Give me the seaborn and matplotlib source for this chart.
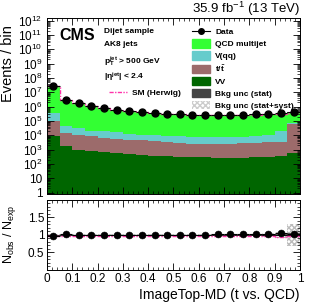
import numpy as np
import pandas as pd
import matplotlib
matplotlib.use('Agg')
import matplotlib.pyplot as plt
from matplotlib.patches import Patch
from matplotlib.lines import Line2D
from matplotlib.ticker import LogLocator, MultipleLocator, NullFormatter
import seaborn as sns

edges = np.linspace(0, 1, 21)
centers = 0.5 * (edges[1:] + edges[:-1])

data = [2.6e7, 2.9e6, 1.7e6, 1.1e6, 7.6e5, 5.8e5, 4.7e5, 4.0e5, 3.4e5, 3.1e5,
        2.95e5, 2.65e5, 2.6e5, 2.6e5, 2.6e5, 2.75e5, 2.95e5, 3.1e5, 3.3e5, 4.0e5]
qcd = [2.619e7, 2.802e6, 1.652e6, 1.069e6, 7.42e5, 5.588e5, 4.527e5, 3.893e5, 3.268e5, 2.98e5,
       2.838e5, 2.548e5, 2.503e5, 2.478e5, 2.477e5, 2.617e5, 2.769e5, 2.869e5, 2.961e5, 3.175e5]
vqq = [248000, 26600, 20200, 12100, 11900, 10100, 7600, 6300, 6000, 5700,
       5500, 5000, 4600, 4600, 4700, 5300, 6700, 8000, 14600, 14600]
ttbar = [83000, 12400, 9700, 7600, 5700, 4800, 4500, 4000, 3400, 2800,
         2500, 2300, 2200, 2200, 2300, 2400, 2500, 2800, 3200, 55600]
vv = [8300, 1700, 1000, 740, 630, 550, 460, 400, 355, 330,
      315, 300, 280, 265, 250, 265, 280, 315, 355, 560]
herwig = [2.55e7, 2.78e6, 1.64e6, 1.06e6, 7.4e5, 5.6e5, 4.5e5, 3.9e5, 3.27e5, 2.98e5,
          2.83e5, 2.55e5, 2.5e5, 2.47e5, 2.47e5, 2.6e5, 2.77e5, 2.87e5, 3.0e5, 3.8e5]
unc_stat = [0.004, 0.005, 0.005, 0.006, 0.006, 0.007, 0.007, 0.008, 0.008, 0.008,
            0.008, 0.009, 0.009, 0.009, 0.009, 0.01, 0.012, 0.015, 0.02, 0.05]
unc_syst = [0.03, 0.03, 0.03, 0.03, 0.03, 0.03, 0.03, 0.03, 0.03, 0.03,
            0.03, 0.03, 0.03, 0.03, 0.03, 0.035, 0.04, 0.05, 0.08, 0.31]

# top of stack first
processes = ['QCD multijet', 'V(qq)', 'ttbar', 'VV']
proc_vals = [qcd, vqq, ttbar, vv]
palette = ['#33ff33', '#66cccc', '#9c6b6b', '#006600']

plt.rcParams['font.family'] = ['Liberation Sans', 'DejaVu Sans']
plt.rcParams['mathtext.fontset'] = 'custom'
plt.rcParams['mathtext.rm'] = 'Liberation Sans'
plt.rcParams['mathtext.it'] = 'Liberation Sans:italic'
plt.rcParams['mathtext.bf'] = 'Liberation Sans:bold'

df = pd.DataFrame({
    'x': np.tile(centers, len(processes)),
    'w': np.concatenate(proc_vals),
    'process': np.repeat(processes, len(centers)),
})

fig = plt.figure(figsize=(3.16, 3.03), dpi=100)
ax = fig.add_axes([0.149, 0.360, 0.80, 0.582])
rax = fig.add_axes([0.149, 0.109, 0.80, 0.231])

sns.histplot(data=df, x='x', weights='w', hue='process', hue_order=processes,
             multiple='stack', bins=20, binrange=(0, 1), element='step',
             palette=palette, alpha=1, linewidth=0, legend=False, ax=ax)
ax.set_yscale('log')

total = np.sum(proc_vals, axis=0)
tot_s = np.append(total, total[-1])
stat_s = np.append(unc_stat, unc_stat[-1])
syst_s = np.append(unc_syst, unc_syst[-1])
ax.fill_between(edges, tot_s * (1 - stat_s), tot_s * (1 + stat_s), step='post',
                color='#444444', lw=0)
ax.step(edges, np.append(herwig, herwig[-1]), where='post', color='#ff33aa',
        ls=(0, (3, 1, 1, 1)), lw=1.0)
ax.errorbar(centers, data, xerr=0.025, fmt='o', color='black', ms=5, lw=0.8)

ax.set_xlim(0, 1)
ax.set_ylim(0.8, 1.6e12)
ax.set_xlabel('')
ax.set_ylabel('Events / bin', fontsize=10.5)
ax.yaxis.set_label_coords(-0.125, 0.74)


def tick_fmt(v, pos):
    if v == 1:
        return '1'
    if v == 10:
        return '10'
    return r'$\mathregular{10^{%d}}$' % round(np.log10(v))


ax.yaxis.set_major_locator(LogLocator(base=10, numticks=20))
ax.yaxis.set_major_formatter(plt.FuncFormatter(tick_fmt))
ax.yaxis.set_minor_locator(LogLocator(base=10, subs=np.arange(2, 10), numticks=20))
ax.yaxis.set_minor_formatter(NullFormatter())
ax.xaxis.set_major_locator(MultipleLocator(0.1))
ax.xaxis.set_minor_locator(MultipleLocator(0.02))
ax.set_xticklabels([])

# ratio panel
ratio = np.array(data) / total
r_h = np.array(herwig) / total
ones = np.ones(len(edges))
rax.fill_between(edges, ones - syst_s, ones + syst_s, step='post', facecolor='none',
                 edgecolor='#bbbbbb', hatch='xxxxxx', lw=0)
rax.fill_between(edges, ones - stat_s, ones + stat_s, step='post', color='#555555', lw=0)
rax.axhline(1, color='black', lw=0.6)
rax.step(edges, np.append(r_h, r_h[-1]), where='post', color='#ff33aa',
         ls=(0, (3, 1, 1, 1)), lw=1.0)
rax.errorbar(centers, ratio, xerr=0.025, fmt='none', color='black', lw=0.8)
sns.scatterplot(x=centers, y=ratio, color='black', s=25, ax=rax, zorder=5,
                edgecolor='black')

rax.set_xlim(0, 1)
rax.set_ylim(0, 2)
rax.set_yticks([0.5, 1, 1.5])
rax.set_yticklabels(['0.5', '1', '1.5'])
rax.yaxis.set_minor_locator(MultipleLocator(0.1))
rax.xaxis.set_major_locator(MultipleLocator(0.1))
rax.xaxis.set_minor_locator(MultipleLocator(0.02))
rax.xaxis.set_major_formatter(plt.FuncFormatter(lambda v, p: '%g' % round(v, 1)))
rax.set_ylabel(r'$\mathregular{N_{obs}\ /\ N_{exp}}$', fontsize=9)
rax.yaxis.set_label_coords(-0.115, 0.5)
rax.set_xlabel('ImageTop-MD (t vs. QCD)', fontsize=10, ha='right', x=1.0, labelpad=2)

for a in (ax, rax):
    a.tick_params(which='both', direction='in', top=True, right=True, labelsize=8.5)
    a.tick_params(which='major', length=5, width=0.6)
    a.tick_params(which='minor', length=2.5, width=0.5)
    for s in a.spines.values():
        s.set_linewidth(0.7)
rax.tick_params(axis='x', pad=2)
rax.tick_params(axis='y', pad=2)

fig.text(0.95, 0.958, r'35.9 fb$\mathregular{^{-1}}$ (13 TeV)', ha='right', fontsize=9.5)
ax.text(0.05, 0.94, 'CMS', transform=ax.transAxes, fontsize=11.5, fontweight='bold', va='top')
info = ['Dijet sample', 'AK8 jets', r'$\mathregular{p_T^{jet}}$ > 500 GeV',
        r'|$\mathregular{\eta^{jet}}$| < 2.4']
info_y = [0.94, 0.865, 0.79, 0.70]
for t, yy in zip(info, info_y):
    ax.text(0.225, yy, t, transform=ax.transAxes, fontsize=6,
            fontweight='bold', va='top')

handles = [
    Line2D([], [], color='black', marker='o', ms=4, lw=0.8),
    Patch(color=palette[0]), Patch(color=palette[1]), Patch(color=palette[2]),
    Patch(color=palette[3]), Patch(color='#444444'),
    Patch(facecolor='white', edgecolor='#cccccc', hatch='xxxxxx', lw=0),
]
labels = ['Data', 'QCD multijet', 'V(qq)', r't/$\mathregular{\bar{t}}$', 'VV',
          'Bkg unc (stat)', 'Bkg unc (stat+syst)']
leg = ax.legend(handles, labels, loc='upper left', bbox_to_anchor=(0.56, 0.965),
                frameon=False, fontsize=6, handlelength=2.2, handleheight=1.2,
                labelspacing=0.35, borderaxespad=0, handletextpad=0.6)
for t in leg.get_texts():
    t.set_fontweight('bold')
ax.add_artist(leg)

l2 = ax.legend([Line2D([], [], color='#ff33aa', ls=(0, (3, 1, 1, 1)), lw=1.0)], ['SM (Herwig)'],
               loc='upper left', bbox_to_anchor=(0.23, 0.615), frameon=False, fontsize=6,
               handlelength=2.2, borderaxespad=0, handletextpad=0.6)
for t in l2.get_texts():
    t.set_fontweight('bold')

fig.savefig('out.png', dpi=100)
